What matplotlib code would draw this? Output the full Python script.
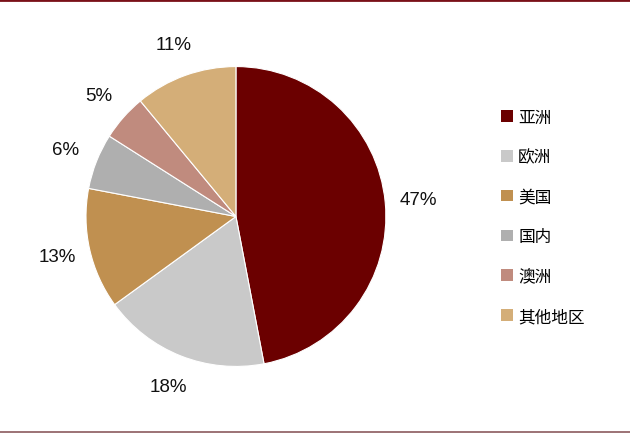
import matplotlib
matplotlib.use("Agg")
import matplotlib.pyplot as plt
from matplotlib.patches import Patch
from matplotlib.lines import Line2D

plt.rcParams['font.family'] = ['Noto Sans CJK SC', 'DejaVu Sans']

categories = ['亚洲', '欧洲', '美国', '国内', '澳洲', '其他地区']
values = [47, 18, 13, 6, 5, 11]
colors = ['#6B0000', '#C9C9C9', '#C09050', '#AFAFAF', '#C08B7E', '#D4AE78']

fig = plt.figure(figsize=(6.3, 4.35), dpi=100)
ax = fig.add_axes([0.1365, 0.155, 0.476, 0.690])

wedges, texts = ax.pie(values, colors=colors, startangle=90, counterclock=False,
                       labels=[f'{v}%' for v in values], labeldistance=1.22,
                       wedgeprops=dict(edgecolor='white', linewidth=0.8))
for t in texts:
    t.set_ha('center')
    t.set_va('center')
    t.set_fontfamily(['Liberation Sans', 'DejaVu Sans'])
    t.set_fontsize(13.5)
    t.set_color('#111111')
ax.set_xlim(-1, 1)
ax.set_ylim(-1, 1)
ax.set_aspect('equal')

handles = [Patch(facecolor=c, edgecolor='none') for c in colors]
leg = fig.legend(handles, categories, loc='upper left', bbox_to_anchor=(0.772, 0.782),
                 frameon=False, fontsize=12, handlelength=0.7, handleheight=0.7,
                 handletextpad=0.3, labelspacing=1.37)

fig.add_artist(Line2D([0, 1], [0.997, 0.997], transform=fig.transFigure, color='#7A1018', linewidth=2))
fig.add_artist(Line2D([0, 1], [0.004, 0.004], transform=fig.transFigure, color='#8B5A5E', linewidth=1.2))

fig.savefig('out.png', dpi=100)
